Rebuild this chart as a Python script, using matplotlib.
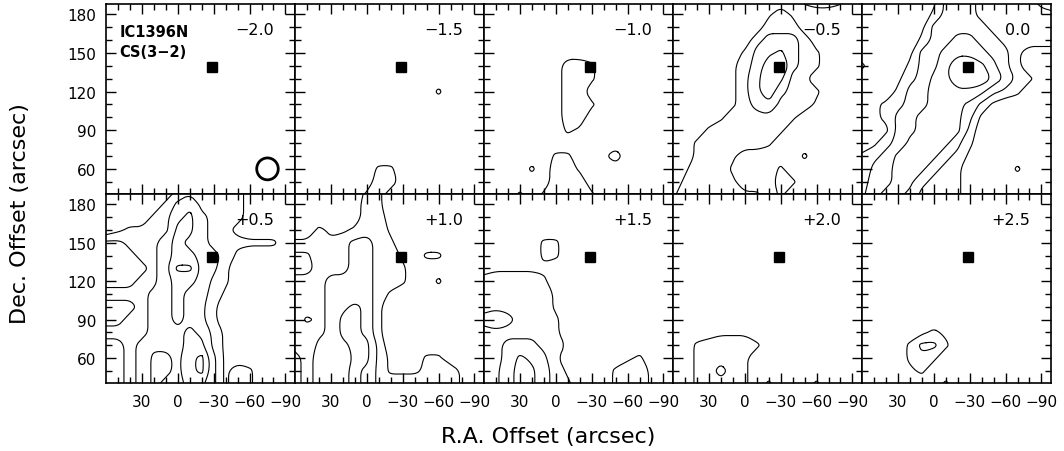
import numpy as np
import matplotlib.pyplot as plt
from matplotlib.patches import Ellipse
from matplotlib.path import Path

# CS(3-2) channel maps of IC1396N, intensity sampled every 10 arcsec
# rows run from Dec = 190 (top) down to 40, columns from RA = +60 to -100
ra = np.arange(60, -101, -10)
dec = np.arange(190, 39, -10)

velocities = ["\u22122.0", "\u22121.5", "\u22121.0", "\u22120.5", "0.0",
              "+0.5", "+1.0", "+1.5", "+2.0", "+2.5"]

ch_m20 = [
    "00000000000000000", "00000000000000000", "00000000000000000", "00000000000000000",
    "00000000000000000", "00000000000000000", "00000000000000000", "00000000000000000",
    "00000000000000000", "00000000000000000", "00000000000000000", "00000000000000000",
    "00000000000000000", "00000000000000000", "00000000000000000", "00000000000000000",
]

ch_m15 = [
    "00000000000000000", "00000000000000000", "00000000000000000", "00000000000000000",
    "00000000000000000", "00000000000000000", "00000000000000000", "00000000000020000",
    "00000000000000000", "00000000000000000", "00000000000000000", "00000000000000000",
    "00000000000000000", "00000002200000000", "00000003300000000", "00000023000000000",
]

ch_m10 = [
    "00000000000000000", "00000000000000000", "00000000000000000", "00000000000000000",
    "00000000000000000", "00000003320000000", "00000003320000000", "00000003300000000",
    "00000003320000000", "00000003300000000", "00000002100000000", "00000000000000000",
    "00000022001300000", "00002033100000000", "00000033300000000", "00020233320000000",
]

ch_m05 = [
    "00000000000233200", "00000000131000000", "00000000333000000", "00000003444300000",
    "00000024564320000", "00000134784320000", "00000135763200000", "00000135743320000",
    "00000134533310000", "00001333332000000", "00023333320000000", "00233333200000000",
    "00233200000200000", "01333100020000000", "02333200032000000", "13333222020000000",
]

ch_p00 = [
    "00000014443223210", "00000024543333322", "00000145554333333", "00000245665433333",
    "00001456776542000", "20002457998642000", "00013467999753200", "00024567776432000",
    "01234566653100000", "01245666641000000", "00145666630000000", "01346666420000000",
    "23467664310000000", "24567643200002000", "34566432200000000", "35665322200000000",
]

ch_p05 = [
    "00000023322210000", "00000245322210000", "00002356432210000", "01223366432100000",
    "44323565433222200", "44433566543100000", "44443588542000000", "44433566532000000",
    "33334565431000000", "44434565420000000", "44334565420000000", "33334456531000000",
    "44345556631000000", "44346657841000000", "44346657841320000", "44346556641320000",
]

ch_p10 = [
    "00000022000000000", "00000032000000000", "00000033000000000", "00211233100000000",
    "22323443200000000", "44233443310220000", "44333443320000000", "33344443320020000",
    "22344443100000000", "22345652000000000", "24346652000000000", "22346652000000000",
    "32445663000000000", "43444663100220000", "43445653111233100", "43445653333333100",
]

ch_p15 = [
    "00000000000000000", "00000000000000000", "00000000000000000", "00000000000000000",
    "00000220000000000", "00000220000000000", "11111100000000000", "23333200000000000",
    "33333310000000000", "33333310000000000", "45433320000000000", "33333320000000000",
    "33444331000000000", "33465420000012000", "33566431000233100", "33566432000233100",
]

ch_p20 = [
    "00000000000000000", "00000000000000000", "00000000000000000", "00000000000000000",
    "00000000000000000", "00000000000000000", "00000000000000000", "00000000000000000",
    "00000000000000000", "00000000000000000", "00000000000000000", "00001110000000000",
    "00233332000000000", "00233320000000000", "00234320000000000", "00233320200020000",
]

ch_p25 = [
    "00000000000000000", "00000000000000000", "00000000000000000", "00000000000000000",
    "00000000000000000", "00000000000000000", "00000000000000000", "00000000000000000",
    "00000000000000000", "00000000000000000", "00000000000000000", "00000121000000000",
    "00002442000000000", "00002320000000000", "00001200000000000", "00000002000000000",
]

channels = [ch_m20, ch_m15, ch_m10, ch_m05, ch_p00,
            ch_p05, ch_p10, ch_p15, ch_p20, ch_p25]

levels = [1.5, 3.5, 5.5, 7.5]
source = (-29, 139)      # filled square
beam = (-75, 60)         # beam position in the first map

xticks = [30, 0, -30, -60, -90]
yticks = [60, 90, 120, 150, 180]


def chaikin(v, closed, n=2):
    # corner cutting, so the contour polylines come out as smooth curves
    for _ in range(n):
        if len(v) < 3:
            return v
        if closed:
            a, b = v, np.roll(v, -1, axis=0)
        else:
            a, b = v[:-1], v[1:]
        out = np.empty((2 * len(a), 2))
        out[0::2] = 0.75 * a + 0.25 * b
        out[1::2] = 0.25 * a + 0.75 * b
        v = out if closed else np.vstack([v[:1], out, v[-1:]])
    return np.vstack([v, v[:1]]) if closed else v


def draw_contours(ax, z):
    cs = ax.contour(ra, dec, z, levels=levels)
    for path in cs.get_paths():
        verts, codes = path.vertices, path.codes
        if len(verts) == 0:
            continue
        if codes is None:
            codes = np.full(len(verts), Path.LINETO)
            codes[0] = Path.MOVETO
        starts = list(np.where(codes == Path.MOVETO)[0]) + [len(verts)]
        for s, e in zip(starts[:-1], starts[1:]):
            seg, sc = verts[s:e], codes[s:e]
            closed = sc[-1] == Path.CLOSEPOLY
            if closed:
                seg = seg[:-1]
            elif np.allclose(seg[0], seg[-1]) and len(seg) > 3:
                seg, closed = seg[:-1], True
            seg = chaikin(seg, closed)
            ax.plot(seg[:, 0], seg[:, 1], color='black', lw=0.8)
    cs.remove()


plt.rcParams['font.family'] = ['DejaVu Sans']

W, H = 1064, 452
fig = plt.figure(figsize=(W / 100, H / 100), dpi=100)

left0, pw = 106, 189
tops = [5, 195]
ph = [190, 189]

for k, rows in enumerate(channels):
    row, col = divmod(k, 5)
    ax = fig.add_axes([(left0 + col * pw) / W, 1 - (tops[row] + ph[row]) / H,
                       pw / W, ph[row] / H])
    z = np.array([[int(c) for c in r] for r in rows], dtype=float)
    if z.max() > levels[0]:
        draw_contours(ax, z)
    ax.plot(*source, marker='s', ms=7.5, color='black', mec='black')
    ax.set_xlim(60, -98)
    ax.set_ylim(40.5, 188)
    ax.set_xticks(xticks)
    ax.set_xticks(np.arange(50, -100, -10), minor=True)
    ax.set_yticks(yticks)
    ax.set_yticks(np.arange(50, 190, 10), minor=True)
    ax.tick_params(which='both', direction='in', top=True, right=True,
                   labelsize=11, width=1.0, color='black')
    ax.tick_params(which='major', length=7)
    ax.tick_params(which='minor', length=4)
    ax.tick_params(axis='x', pad=8)
    ax.tick_params(axis='y', pad=7)
    if row == 0:
        ax.set_xticklabels([])
    if col > 0:
        ax.set_yticklabels([])
    for s in ax.spines.values():
        s.set_linewidth(1.2)
    ax.text(0.89, 0.865, velocities[k], transform=ax.transAxes,
            ha='right', va='center', fontsize=11.5)
    if k == 0:
        ax.text(0.07, 0.855, "IC1396N", transform=ax.transAxes,
                ha='left', va='center', fontsize=10.5, fontweight='bold')
        ax.text(0.07, 0.75, "CS(3\u22122)", transform=ax.transAxes,
                ha='left', va='center', fontsize=10.5, fontweight='bold')
        ax.add_patch(Ellipse(beam, 18, 17, fill=False, lw=2.0, color='black'))

fig.text(20 / W, 1 - 214 / H, "Dec. Offset (arcsec)", rotation=90,
         ha='center', va='center', fontsize=16)
fig.text(548 / W, 1 - 437 / H, "R.A. Offset (arcsec)",
         ha='center', va='center', fontsize=16)

fig.savefig("out.png", dpi=100)
